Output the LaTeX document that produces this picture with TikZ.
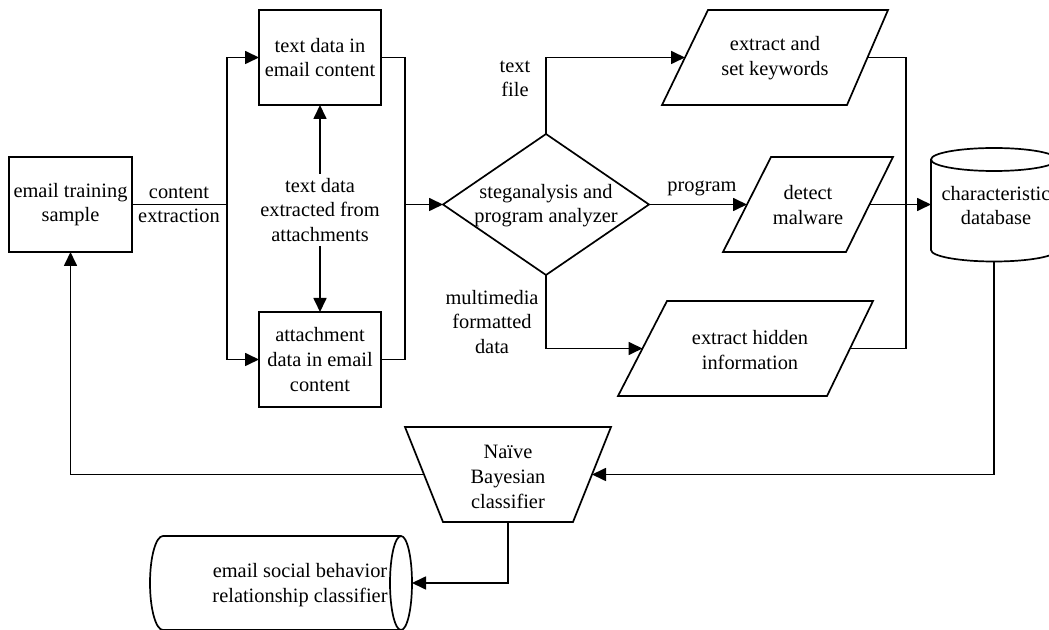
\documentclass[tikz,border=0pt]{standalone}
\usepackage{fontspec}
\setmainfont{Liberation Serif}
\usetikzlibrary{shapes.geometric,arrows.meta}
\begin{document}
\begin{tikzpicture}[x=0.5pt,y=-0.5pt,
  every node/.style={font=\fontsize{10.2}{12.3}\selectfont},
  shp/.style={draw, line width=0.85pt},
  ln/.style={line width=0.85pt},
  arr/.style={line width=0.85pt, -{Triangle[length=7pt,width=6.5pt]}},
  box/.style={shp, rectangle, align=center, minimum width=61pt, minimum height=47.5pt, inner sep=0pt, outer sep=0pt},
  lab/.style={align=center, inner sep=0pt}]
\useasboundingbox[fill=white] (0,0) rectangle (1049,630);

% boxes
\node[box, minimum width=61.5pt] (email) at (70.5,204.5) {email training\\sample};
\node[box] (td) at (320,57.5) {text data in\\email content};
\node[box] (ad) at (320,359.5) {attachment\\data in email\\content};
\node[lab, inner sep=2pt] (mid) at (320,210) {text data\\extracted from\\attachments};

% diamond
\node[shp, diamond, aspect=1.46, minimum width=103pt, minimum height=70.5pt, inner sep=0pt, outer sep=0pt] (dia) at (546,204.5) {};
\node[lab] (diat) at (546,205.5) {steganalysis and\\program analyzer};

% parallelograms
\draw[shp] (708,10) -- (888,10) -- (847,105) -- (662,105) -- cycle;
\coordinate (kwL) at (685,57.5);
\coordinate (kwR) at (867.5,57.5);
\node[lab] (kwt) at (775,58) {extract and\\set keywords};

\draw[shp] (771,157) -- (893,157) -- (846,252) -- (723,252) -- cycle;
\coordinate (mwL) at (747,204.5);
\coordinate (mwR) at (869.5,204.5);
\node[lab] (mwt) at (808,205) {detect\\malware};

\draw[shp] (667,301) -- (873,301) -- (827,396) -- (618,396) -- cycle;
\coordinate (hidL) at (642.5,348.5);
\coordinate (hidR) at (850,348.5);
\node[lab] (hidt) at (750,350) {extract hidden\\information};

% classifier trapezium
\draw[shp] (405,427) -- (611,427) -- (573,522) -- (443,522) -- cycle;
\coordinate (nbL) at (424,474.5);
\coordinate (nbR) at (592,474.5);
\coordinate (nbS) at (508,522);
\node[lab] (nbt) at (508,477) {Naïve\\Bayesian\\classifier};

% database cylinder
\draw[shp] (931,159.5) -- (931,250) arc[start angle=180, end angle=0, x radius=63, y radius=11.5] -- (1057,159.5);
\draw[shp] (994,159.5) ellipse[x radius=63, y radius=11.5];
\coordinate (dbW) at (931,204.5);
\coordinate (dbS) at (994,261.5);
\node[lab] (dbt) at (996,205.5) {characteristic\\database};

% bottom horizontal cylinder
\draw[shp] (401,536) -- (163,536) arc[start angle=270, end angle=90, x radius=13, y radius=47] -- (401,630);
\draw[shp] (401,583) ellipse[x radius=11, y radius=47];
\coordinate (esbE) at (412,583);
\node[lab] (esbt) at (300,585) {email social behavior\\relationship classifier};

% labels
\node[lab] (ce) at (179,205) {content\\extraction};
\node[lab] (tf) at (515,79) {text\\file};
\node[lab] (pg) at (702,188) {program};
\node[lab] (mm) at (492,322) {multimedia\\formatted\\data};

% bus coordinates
\coordinate (busL) at (227,204.5);
\coordinate (busR) at (405,204.5);
\coordinate (busR2) at (906,204.5);

% connectors
\draw[ln] (email.east) -- (busL);
\draw[arr] (busL) |- (td.west);
\draw[arr] (busL) |- (ad.west);
\draw[arr] (mid.north) -- (td.south);
\draw[arr] (mid.south) -- (ad.north);
\draw[ln] (td.east) -| (busR);
\draw[ln] (ad.east) -| (busR);
\draw[arr] (busR) -- (dia.west);
\draw[arr] (dia.north) |- (kwL);
\draw[arr] (dia.east) -- (mwL);
\draw[arr] (dia.south) |- (hidL);
\draw[ln] (kwR) -| (busR2);
\draw[ln] (hidR) -| (busR2);
\draw[arr] (mwR) -- (dbW);
\draw[arr] (dbS) |- (nbR);
\draw[arr] (nbL) -| (email.south);
\draw[arr] (nbS) |- (esbE);
\end{tikzpicture}
\end{document}
